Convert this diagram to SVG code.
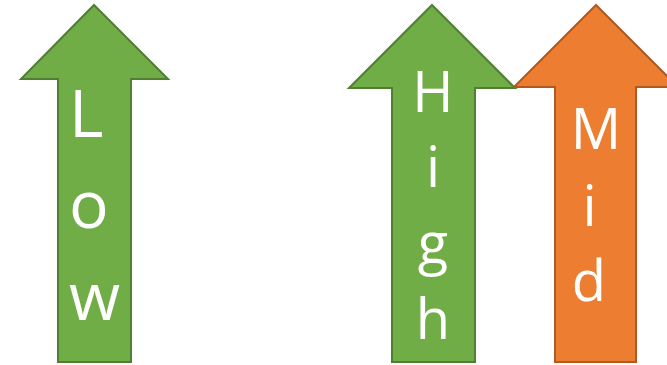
<svg xmlns="http://www.w3.org/2000/svg" width="667" height="365" viewBox="0 0 667 365">
<style>
.green{fill:#70AD47;stroke:#507E32;stroke-width:2;stroke-linejoin:miter}
.orange{fill:#ED7D31;stroke:#AE5A21;stroke-width:2;stroke-linejoin:miter}
.lbl{fill:#FFFFFF;font-family:"Open Sans","Noto Sans",sans-serif}
.big{font-size:66px}
.mid{font-size:56px;text-anchor:middle}
</style>
<rect width="667" height="365" fill="#FFFFFF"/>
<g id="low">
<path class="green" d="M94,5 L168,79 L131,79 L131,362 L58,362 L58,79 L21,79 Z"/>
<text class="lbl big" x="69" y="137">L</text>
<text class="lbl big" x="69" y="228">o</text>
<text class="lbl big" x="69" y="320">w</text>
</g>
<g id="high">
<path class="green" d="M432,5 L515,88 L475,88 L475,362 L392,362 L392,88 L349,88 Z"/>
<text class="lbl mid" x="433" y="112">H</text>
<text class="lbl mid" x="433" y="187">i</text>
<text class="lbl mid" x="433" y="263">g</text>
<text class="lbl mid" x="433" y="339">h</text>
</g>
<g id="midarrow">
<path class="orange" d="M596,5 L678,87 L636,87 L636,362 L555,362 L555,87 L514,87 Z"/>
<text class="lbl mid" x="596" y="149">M</text>
<text class="lbl mid" x="589.5" y="226">i</text>
<text class="lbl mid" x="589" y="301">d</text>
</g>
<g id="connectors"/>
</svg>
